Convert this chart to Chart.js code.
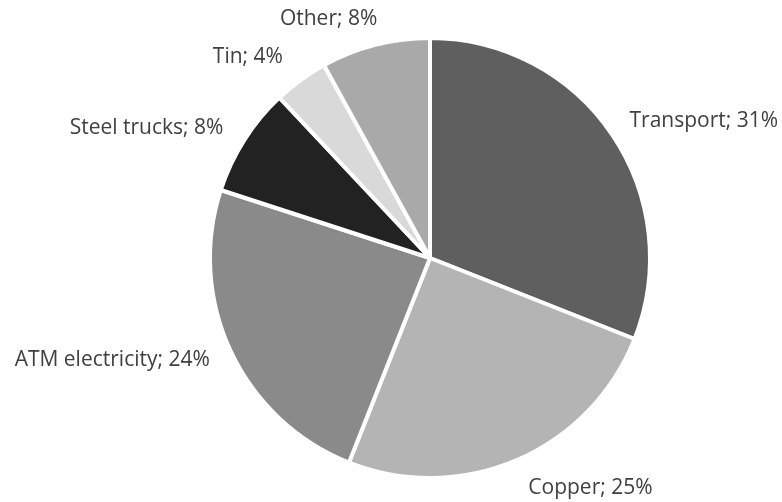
<!DOCTYPE html>
<html>
<head>
<meta charset="utf-8">
<script src="https://cdn.jsdelivr.net/npm/chart.js@4/dist/chart.umd.min.js"></script>
<style>
  html, body { margin: 0; padding: 0; background: #ffffff; }
  #wrap { width: 782px; height: 502px; }
</style>
</head>
<body>
<div id="wrap"><canvas id="chart" width="782" height="502"></canvas></div>
<script>
// Shares, clockwise from 12 o'clock
const categories = ["Transport", "Copper", "ATM electricity", "Steel trucks", "Tin", "Other"];
const shares = [31, 25, 24, 8, 4, 8];

const sliceColors = ["#5f5f5f", "#b4b4b4", "#8a8a8a", "#222222", "#d9d9d9", "#a9a9a9"];

// Small per-label nudges (px) on top of the arc-derived anchor, to mimic Excel's "best fit"
const labelNudge = [[1, -2], [3, 10], [-3, 0], [-4, -1], [-6, -7], [7, -7]];

// Draws "Name; NN%" outside each slice, anchored on the slice's mid angle.
const outsideLabels = {
    id: "outsideLabels",
    afterDatasetsDraw(chart) {
        const { ctx } = chart;
        const meta = chart.getDatasetMeta(0);
        ctx.save();
        ctx.font = "21px 'Open Sans', sans-serif";
        ctx.fillStyle = "#404040";
        ctx.textBaseline = "middle";
        meta.data.forEach((arc, i) => {
            const mid = (arc.startAngle + arc.endAngle) / 2;
            const r = arc.outerRadius + 20;
            const x = arc.x + Math.cos(mid) * r + labelNudge[i][0];
            const y = arc.y + Math.sin(mid) * r + labelNudge[i][1];
            ctx.textAlign = Math.cos(mid) >= 0 ? "left" : "right";
            ctx.fillText(categories[i] + "; " + shares[i] + "%", x, y);
        });
        ctx.restore();
    },
};

new Chart(document.getElementById("chart"), {
    type: "pie",
    data: {
        labels: categories,
        datasets: [
            {
                data: shares,
                backgroundColor: sliceColors,
                borderColor: "#ffffff",
                borderWidth: 4,
                hoverOffset: 0,
                radius: 220,
            },
        ],
    },
    options: {
        responsive: false,
        animation: false,
        events: [],
        layout: {
            padding: { left: 78, right: 0, top: 14, bottom: 0 },
        },
        plugins: {
            legend: { display: false },
            tooltip: { enabled: false },
        },
    },
    plugins: [outsideLabels],
});
</script>
</body>
</html>
